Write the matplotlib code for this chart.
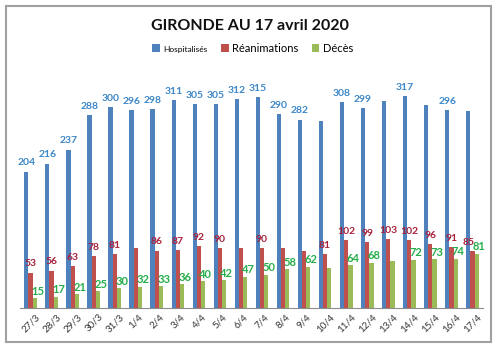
"""Gironde COVID-19 hospital counts, 27/3 to 17/4 2020."""

import numpy as np
import matplotlib.pyplot as plt
from matplotlib.patches import Rectangle

plt.rcParams["font.family"] = ["Lato", "DejaVu Sans"]

dates = ["27/3", "28/3", "29/3", "30/3", "31/3", "1/4", "2/4", "3/4", "4/4",
         "5/4", "6/4", "7/4", "8/4", "9/4", "10/4", "11/4", "12/4", "13/4",
         "14/4", "15/4", "16/4", "17/4"]
hospitalises = [204, 216, 237, 288, 300, 296, 298, 311, 305, 305, 312, 315,
                290, 282, 280, 308, 299, 310, 317, 304, 296, 294]
reanimations = [53, 56, 63, 78, 81, 89, 86, 87, 92, 90, 90, 90,
                89, 86, 81, 102, 99, 103, 102, 96, 91, 85]
deces = [15, 17, 21, 25, 30, 32, 33, 36, 40, 42, 47, 50,
         58, 62, 60, 64, 68, 70, 72, 73, 74, 81]

# days whose value label is not shown on the chart
hosp_nolabel = [14, 17, 19, 21]
rea_nolabel = [5, 10, 12, 13]
deces_nolabel = [14, 17]

W = 0.2
BLUE, RED, GREEN = "#4F81BD", "#C0504D", "#9BBB59"


def main():
    fig = plt.figure(figsize=(5, 3.48), dpi=100)
    ax = fig.add_axes([0.04, 0.115, 0.926, 0.653])
    x = np.arange(len(dates))

    # values, offset, bar colour, label colour, skipped labels, name, (dx, dy), size
    series = [
        (hospitalises, -W, BLUE, "#3C87C8", hosp_nolabel, "Hospitalisés", (0, 3), 7.5),
        (reanimations, 0, RED, "#A8213A", rea_nolabel, "Réanimations", (0, 3), 7.5),
        (deces, W, GREEN, "#26AE4A", deces_nolabel, "Décès", (2, 1), 8),
    ]
    for vals, off, col, lcol, skip, name, (dx, dy), fs in series:
        bars = ax.bar(x + off, vals, W, color=col, label=name)
        for i, (b, v) in enumerate(zip(bars, vals)):
            if i in skip:
                continue
            nudge = -3 if (col == RED and i == len(vals) - 1) else 0
            ax.annotate(str(v), (b.get_x() + b.get_width() / 2, v),
                        xytext=(dx + nudge, dy), textcoords="offset points",
                        ha="center", va="bottom", fontsize=fs,
                        fontweight="bold", color=lcol, zorder=5)

    ax.set_xlim(-0.5, len(dates) - 0.5)
    ax.set_ylim(0, 340)
    ax.set_yticks([])
    ax.set_xticks(x)
    ax.set_xticklabels(dates, rotation=45, fontsize=7, color="#333333")
    ax.tick_params(axis="x", length=0, pad=3)
    for s in ("top", "right", "left"):
        ax.spines[s].set_visible(False)
    ax.spines["bottom"].set_color("#8c8c8c")

    fig.text(0.5, 0.925, "GIRONDE AU 17 avril 2020", ha="center", va="center",
             fontsize=11.5, fontweight="bold", color="#111111")

    leg = fig.legend(loc="center", bbox_to_anchor=(0.505, 0.862), ncol=3,
                     frameon=False, fontsize=8, handlelength=0.7,
                     handleheight=0.7, handletextpad=0.3, columnspacing=1.2)
    leg.get_texts()[0].set_fontsize(6)

    fig.patches.append(Rectangle((0.012, 0.017), 0.97, 0.966,
                                 transform=fig.transFigure, fill=False,
                                 edgecolor="#a0a0a0", lw=1.5))

    fig.savefig("out.png", dpi=100)


if __name__ == "__main__":
    main()
